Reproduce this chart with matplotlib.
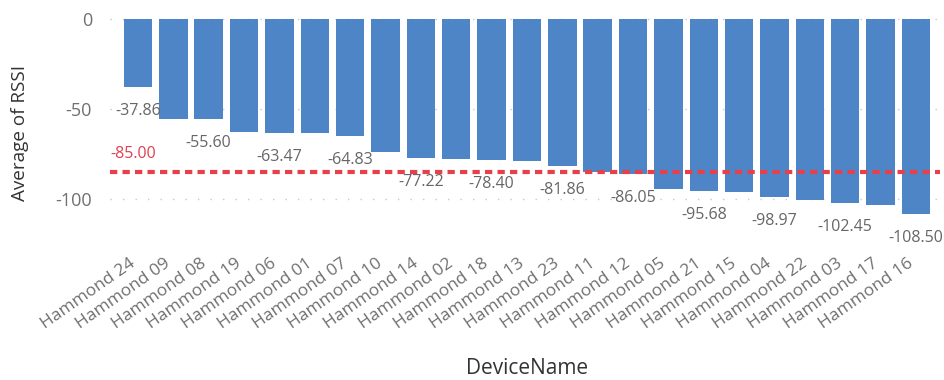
import matplotlib.pyplot as plt
import matplotlib.transforms as mtransforms

plt.rcParams['font.family'] = ['Open Sans', 'DejaVu Sans']

devices = ["Hammond 24", "Hammond 09", "Hammond 08", "Hammond 19", "Hammond 06",
           "Hammond 01", "Hammond 07", "Hammond 10", "Hammond 14", "Hammond 02",
           "Hammond 18", "Hammond 13", "Hammond 23", "Hammond 11", "Hammond 12",
           "Hammond 05", "Hammond 21", "Hammond 15", "Hammond 04", "Hammond 22",
           "Hammond 03", "Hammond 17", "Hammond 16"]
rssi = [-37.86, -55.45, -55.60, -62.90, -63.47, -63.70, -64.83, -74.10, -77.22, -77.90,
        -78.40, -79.20, -81.86, -84.80, -86.05, -94.30, -95.68, -96.40, -98.97, -100.40,
        -102.45, -103.20, -108.50]
threshold = -85.00

fig = plt.figure(figsize=(9.45, 3.8), dpi=100)
ax = fig.add_axes([110 / 945, 1 - 245 / 380, 830 / 945, (245 - 12.6) / 380])

x = range(len(devices))
ax.bar(x, rssi, width=0.806, color="#4E85C6", zorder=2)

# dotted gridlines
ax.set_yticks([0, -50, -100])
ax.set_yticklabels(["0", "-50", "-100"])
ax.grid(axis="y", color="#C8C8C8", linestyle=(0, (1, 8)), linewidth=1, zorder=0)
ax.set_ylim(-125.5, 3.3)
ax.set_xlim(-0.79, 22.68)

for s in ax.spines.values():
    s.set_visible(False)
ax.tick_params(axis="both", length=0, colors="#707070")
ax.tick_params(axis="y", pad=13, labelsize=13)

ax.set_xticks(list(x))
ax.set_xticklabels(devices, rotation=35, ha="right", rotation_mode="anchor", fontsize=12.5)
shift = mtransforms.ScaledTranslation(-9 / 100, -6 / 100, fig.dpi_scale_trans)
for lbl in ax.get_xticklabels():
    lbl.set_transform(lbl.get_transform() + shift)

# every other bar gets its value
for i in range(0, len(rssi), 2):
    ax.annotate(f"{rssi[i]:.2f}", (i, rssi[i]), xytext=(0, -17.3), textcoords="offset points",
                ha="center", va="center", fontsize=11.5, color="#666666")

# threshold line
ax.axhline(threshold, color="#E8404A", linewidth=3, dashes=(1.75, 1.25), zorder=3)
ax.annotate(f"{threshold:.2f}", (-0.79, threshold), xytext=(0, 13), textcoords="offset points",
            ha="left", va="center", fontsize=11.5, color="#E0404F")

fig.text(20 / 945, 1 - 133 / 380, "Average of RSSI", fontsize=13.6, color="#333333",
         rotation=90, ha="center", va="center")
fig.text(527 / 945, 1 - 369 / 380, "DeviceName", fontsize=15, color="#333333",
         ha="center", va="center")

fig.savefig("out.png", dpi=100)
